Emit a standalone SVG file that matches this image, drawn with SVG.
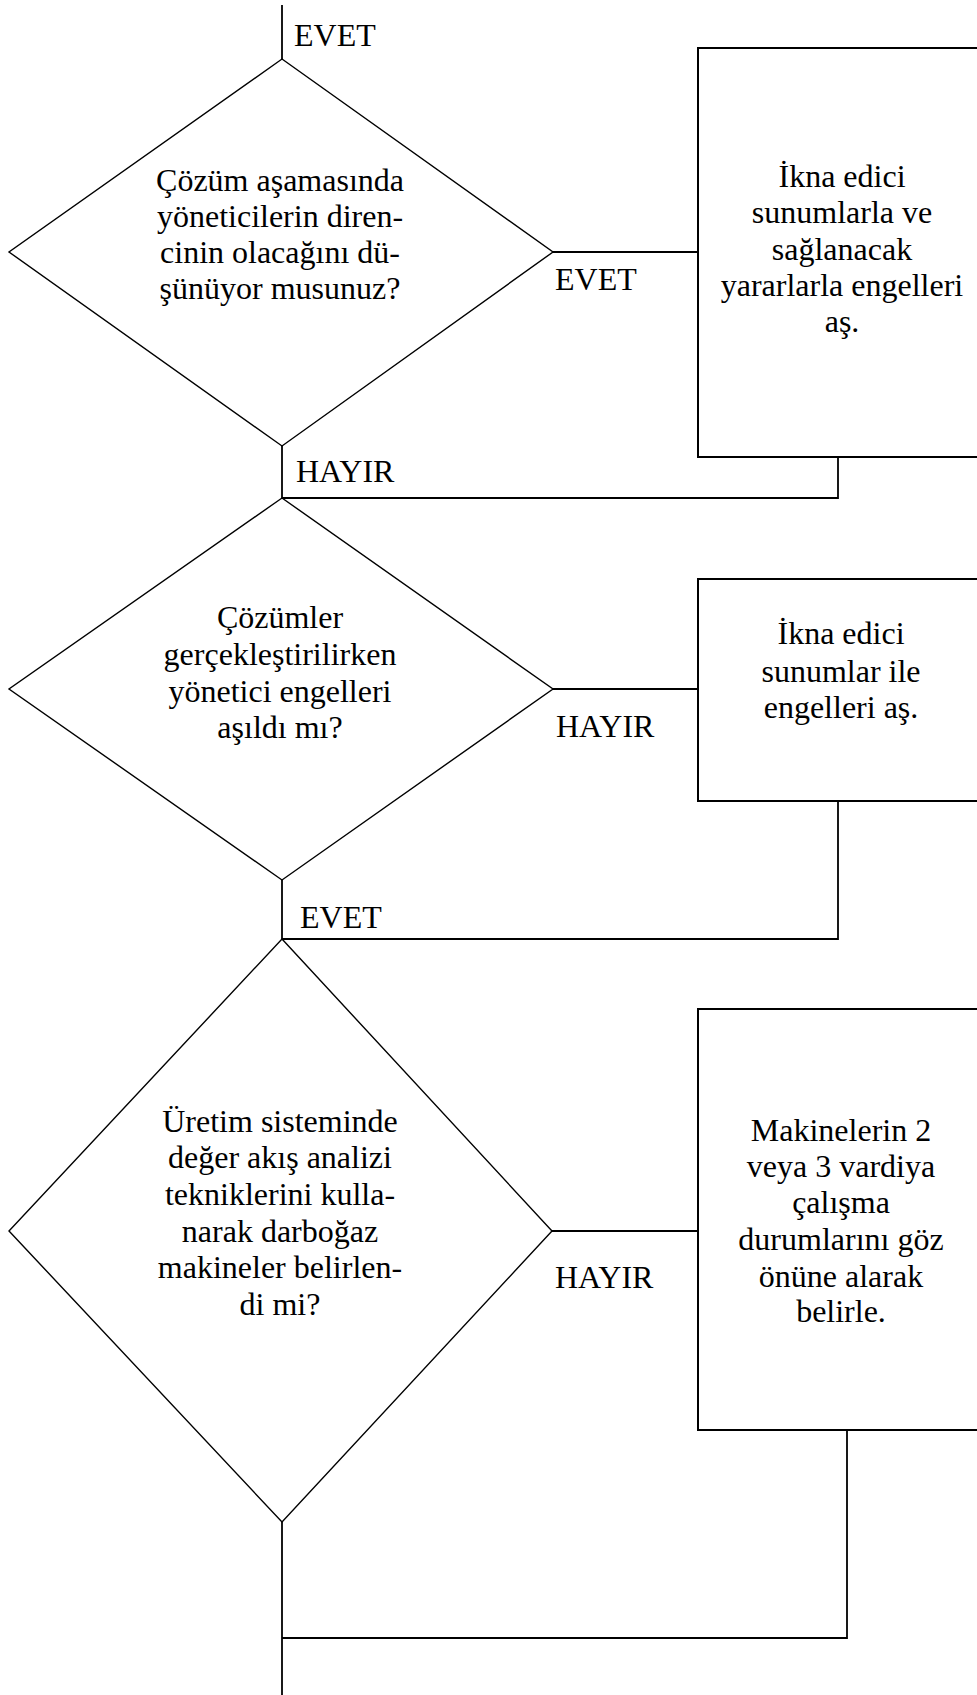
<svg xmlns="http://www.w3.org/2000/svg" width="977" height="1695" viewBox="0 0 977 1695">
  <style>
    .bg { fill: #ffffff; }
    .dia { fill: none; stroke: #000; stroke-width: 1.4; stroke-linejoin: miter; }
    .box { fill: none; stroke: #000; stroke-width: 2; }
    .wire { fill: none; stroke: #000; stroke-width: 1.8; }
    text { font-family: "Liberation Serif", "Times New Roman", serif; font-size: 32px; fill: #000; }
    .c { text-anchor: middle; }
  </style>
  <rect class="bg" x="0" y="0" width="977" height="1695"/>

  <!-- connectors -->
  <g id="connectors">
    <polyline class="wire" points="282,5 282,59"/>
    <polyline class="wire" points="553,252 698,252"/>
    <polyline class="wire" points="838,457 838,498 282,498"/>
    <polyline class="wire" points="282,446 282,498"/>
    <polyline class="wire" points="553,689 698,689"/>
    <polyline class="wire" points="838,801 838,939 282,939"/>
    <polyline class="wire" points="282,880 282,939"/>
    <polyline class="wire" points="552,1231 698,1231"/>
    <polyline class="wire" points="847,1430 847,1638 282,1638"/>
    <polyline class="wire" points="282,1522 282,1695"/>
  </g>

  <!-- branch labels -->
  <g id="labels">
    <text x="294" y="46">EVET</text>
    <text x="555" y="290">EVET</text>
    <text x="296" y="482">HAYIR</text>
    <text x="556" y="737">HAYIR</text>
    <text x="300" y="928">EVET</text>
    <text x="555" y="1288">HAYIR</text>
  </g>

  <!-- decision 1 -->
  <g id="decision1">
    <polygon class="dia" points="282,59 553,252 282,446 9,252"/>
    <text class="c" x="280" y="191">Çözüm aşamasında</text>
    <text class="c" x="280" y="227">yöneticilerin diren-</text>
    <text class="c" x="280" y="263">cinin olacağını dü-</text>
    <text class="c" x="280" y="299">şünüyor musunuz?</text>
  </g>

  <!-- action 1 -->
  <g id="action1">
    <rect class="box" x="698" y="48" width="300" height="409"/>
    <text class="c" x="842" y="187">İkna edici</text>
    <text class="c" x="842" y="223">sunumlarla ve</text>
    <text class="c" x="842" y="260">sağlanacak</text>
    <text class="c" x="842" y="296">yararlarla engelleri</text>
    <text class="c" x="842" y="332">aş.</text>
  </g>

  <!-- decision 2 -->
  <g id="decision2">
    <polygon class="dia" points="282,498 553,689 282,880 9,689"/>
    <text class="c" x="280" y="628">Çözümler</text>
    <text class="c" x="280" y="665">gerçekleştirilirken</text>
    <text class="c" x="280" y="702">yönetici engelleri</text>
    <text class="c" x="280" y="738">aşıldı mı?</text>
  </g>

  <!-- action 2 -->
  <g id="action2">
    <rect class="box" x="698" y="579" width="300" height="222"/>
    <text class="c" x="841" y="644">İkna edici</text>
    <text class="c" x="841" y="682">sunumlar ile</text>
    <text class="c" x="841" y="718">engelleri aş.</text>
  </g>

  <!-- decision 3 -->
  <g id="decision3">
    <polygon class="dia" points="282,939 552,1231 282,1522 9,1231"/>
    <text class="c" x="280" y="1132">Üretim sisteminde</text>
    <text class="c" x="280" y="1168">değer akış analizi</text>
    <text class="c" x="280" y="1205">tekniklerini kulla-</text>
    <text class="c" x="280" y="1242">narak darboğaz</text>
    <text class="c" x="280" y="1278">makineler belirlen-</text>
    <text class="c" x="280" y="1315">di mi?</text>
  </g>

  <!-- action 3 -->
  <g id="action3">
    <rect class="box" x="698" y="1009" width="300" height="421"/>
    <text class="c" x="841" y="1141">Makinelerin 2</text>
    <text class="c" x="841" y="1177">veya 3 vardiya</text>
    <text class="c" x="841" y="1213">çalışma</text>
    <text class="c" x="841" y="1250">durumlarını göz</text>
    <text class="c" x="841" y="1287">önüne alarak</text>
    <text class="c" x="841" y="1322">belirle.</text>
  </g>
</svg>
